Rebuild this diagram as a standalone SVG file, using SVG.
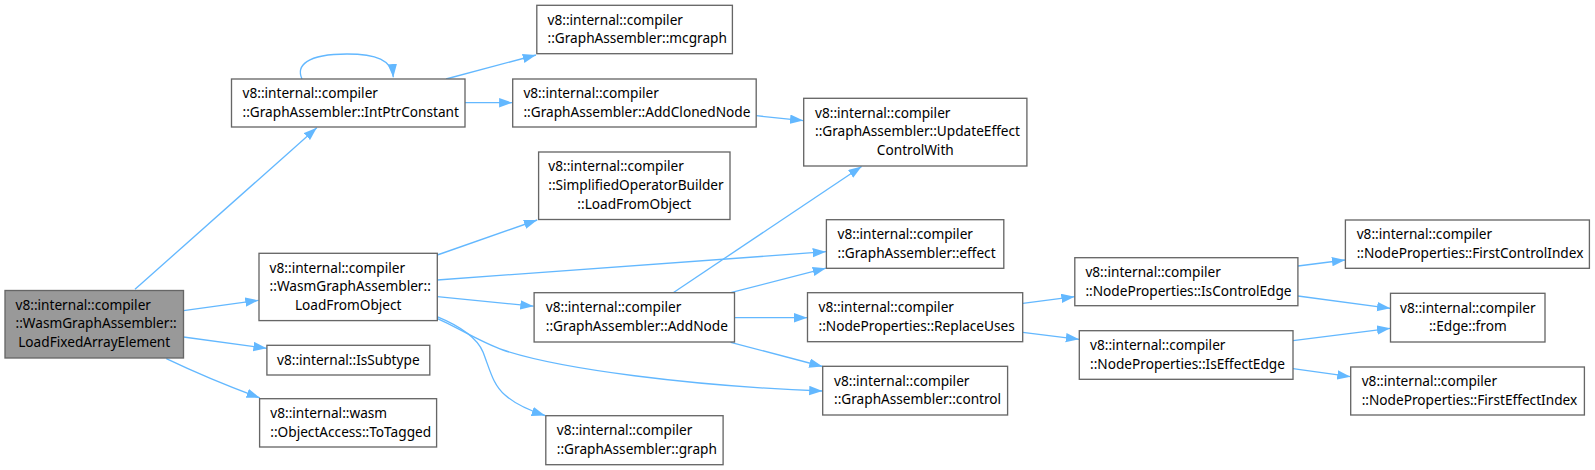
<svg xmlns="http://www.w3.org/2000/svg" width="1595" height="470" viewBox="0 0 1595 470">
<defs>
<style>
.n rect{fill:#fff;stroke:#666;stroke-width:1.33}
.n.g rect{fill:#999}
.n text{font-family:"Noto Sans",sans-serif;font-size:13.65px;fill:#000}
.m{text-anchor:middle}
.e path{fill:none;stroke:#63b8ff;stroke-width:1.33}
</style>
<marker id="ah" markerUnits="userSpaceOnUse" markerWidth="14" markerHeight="10" refX="13.3" refY="4.7" orient="auto">
<path d="M0,0 L13.3,4.7 L0,9.4 z" fill="#63b8ff"/>
</marker>
</defs>
<g class="e" id="edges">
<path marker-end="url(#ah)" d="M135,289.3 L316.8,127.7"/>
<path marker-end="url(#ah)" d="M302,79 C296,66 306,54 347,54 C376,54 392,60 393.3,77.3"/>
<path marker-end="url(#ah)" d="M446,79 L536,55"/>
<path marker-end="url(#ah)" d="M465,102.7 L512.4,102.7"/>
<path marker-end="url(#ah)" d="M756.2,115.7 L803.3,120.6"/>
<path marker-end="url(#ah)" d="M183.5,310.7 L258.5,300.3"/>
<path marker-end="url(#ah)" d="M183.5,337 L266.7,348.3"/>
<path marker-end="url(#ah)" d="M166.3,358.7 C190,370 230,387 259.8,397.9"/>
<path marker-end="url(#ah)" d="M437.3,255 L537.2,220"/>
<path marker-end="url(#ah)" d="M437.3,280 L826,251.7"/>
<path marker-end="url(#ah)" d="M437.3,296.7 L533.6,306.2"/>
<path marker-end="url(#ah)" d="M437,318.3 C455,326 480,342 503,350 C560,369 690,386 822.5,391"/>
<path marker-end="url(#ah)" d="M437,316.7 C462,327 477,338 483,352 C490,370 493,385 505,395 C515,404 528,410 545,415.5"/>
<path marker-end="url(#ah)" d="M673.2,292.7 L861.6,166.5"/>
<path marker-end="url(#ah)" d="M730.7,292.7 L826,268.2"/>
<path marker-end="url(#ah)" d="M734.5,317.7 L807.3,317.7"/>
<path marker-end="url(#ah)" d="M730.7,342.3 L822.5,366.5"/>
<path marker-end="url(#ah)" d="M1022.8,303.3 L1074.6,296.7"/>
<path marker-end="url(#ah)" d="M1022.8,332.3 L1079.1,339.3"/>
<path marker-end="url(#ah)" d="M1298,266 L1345.2,260"/>
<path marker-end="url(#ah)" d="M1298,296 L1390.3,308.3"/>
<path marker-end="url(#ah)" d="M1293,340.7 L1390.3,328.3"/>
<path marker-end="url(#ah)" d="M1293,368.7 L1350.5,376.7"/>
</g>
<g class="n g" id="node1"><rect x="5" y="290.5" width="178.5" height="67.5"/><text x="15.5" y="309.5">v8::internal::compiler</text><text x="15.5" y="328.2">::WasmGraphAssembler::</text><text class="m" x="94.2" y="346.9">LoadFixedArrayElement</text></g>
<g class="n" id="node2"><rect x="231.5" y="79" width="233.5" height="48"/><text x="242.5" y="98.3">v8::internal::compiler</text><text x="242.5" y="117">::GraphAssembler::IntPtrConstant</text></g>
<g class="n" id="node3"><rect x="536.8" y="5.3" width="195.6" height="48.4"/><text x="547.5" y="24.6">v8::internal::compiler</text><text x="547.5" y="43.3">::GraphAssembler::mcgraph</text></g>
<g class="n" id="node4"><rect x="512.7" y="79" width="243.5" height="48"/><text x="523.4" y="98.3">v8::internal::compiler</text><text x="523.4" y="117">::GraphAssembler::AddClonedNode</text></g>
<g class="n" id="node5"><rect x="803.7" y="98.3" width="223.2" height="67.7"/><text x="815" y="117.5">v8::internal::compiler</text><text x="815" y="136.2">::GraphAssembler::UpdateEffect</text><text class="m" x="915.3" y="154.9">ControlWith</text></g>
<g class="n" id="node6"><rect x="538.6" y="152" width="191.4" height="67.5"/><text x="548.3" y="171.2">v8::internal::compiler</text><text x="548.3" y="189.9">::SimplifiedOperatorBuilder</text><text class="m" x="634.3" y="208.6">::LoadFromObject</text></g>
<g class="n" id="node7"><rect x="259" y="253.3" width="178.3" height="67.3"/><text x="269.6" y="272.5">v8::internal::compiler</text><text x="269.6" y="291.2">::WasmGraphAssembler::</text><text class="m" x="348.2" y="309.9">LoadFromObject</text></g>
<g class="n" id="node8"><rect x="266.9" y="345.3" width="162.9" height="29.7"/><text class="m" x="348.3" y="364.8">v8::internal::IsSubtype</text></g>
<g class="n" id="node9"><rect x="259.6" y="398.7" width="177" height="48.3"/><text x="270.3" y="418">v8::internal::wasm</text><text x="270.3" y="436.7">::ObjectAccess::ToTagged</text></g>
<g class="n" id="node10"><rect x="826.4" y="219.7" width="177.4" height="48.6"/><text x="837.5" y="239">v8::internal::compiler</text><text x="837.5" y="257.7">::GraphAssembler::effect</text></g>
<g class="n" id="node11"><rect x="534.1" y="292.7" width="200.4" height="49.3"/><text x="545.8" y="312">v8::internal::compiler</text><text x="545.8" y="330.7">::GraphAssembler::AddNode</text></g>
<g class="n" id="node12"><rect x="807.5" y="292.7" width="215.2" height="49"/><text x="818.5" y="312">v8::internal::compiler</text><text x="818.5" y="330.7">::NodeProperties::ReplaceUses</text></g>
<g class="n" id="node13"><rect x="822.7" y="366.3" width="184.9" height="48.7"/><text x="834" y="385.6">v8::internal::compiler</text><text x="834" y="404.3">::GraphAssembler::control</text></g>
<g class="n" id="node14"><rect x="545.8" y="415.7" width="177.3" height="49"/><text x="556.8" y="435">v8::internal::compiler</text><text x="556.8" y="453.7">::GraphAssembler::graph</text></g>
<g class="n" id="node15"><rect x="1345.4" y="220" width="244" height="48.3"/><text x="1356.7" y="239.3">v8::internal::compiler</text><text x="1356.7" y="258">::NodeProperties::FirstControlIndex</text></g>
<g class="n" id="node16"><rect x="1074.8" y="257.7" width="223.1" height="48"/><text x="1085.4" y="277">v8::internal::compiler</text><text x="1085.4" y="295.7">::NodeProperties::IsControlEdge</text></g>
<g class="n" id="node17"><rect x="1390.5" y="293.3" width="154.5" height="48.7"/><text class="m" x="1467.8" y="312.6">v8::internal::compiler</text><text class="m" x="1467.8" y="331.3">::Edge::from</text></g>
<g class="n" id="node18"><rect x="1079.3" y="330.7" width="213.7" height="48.6"/><text x="1090" y="350">v8::internal::compiler</text><text x="1090" y="368.7">::NodeProperties::IsEffectEdge</text></g>
<g class="n" id="node19"><rect x="1350.7" y="367" width="233.7" height="48"/><text x="1361.7" y="386.3">v8::internal::compiler</text><text x="1361.7" y="405">::NodeProperties::FirstEffectIndex</text></g>
</svg>
